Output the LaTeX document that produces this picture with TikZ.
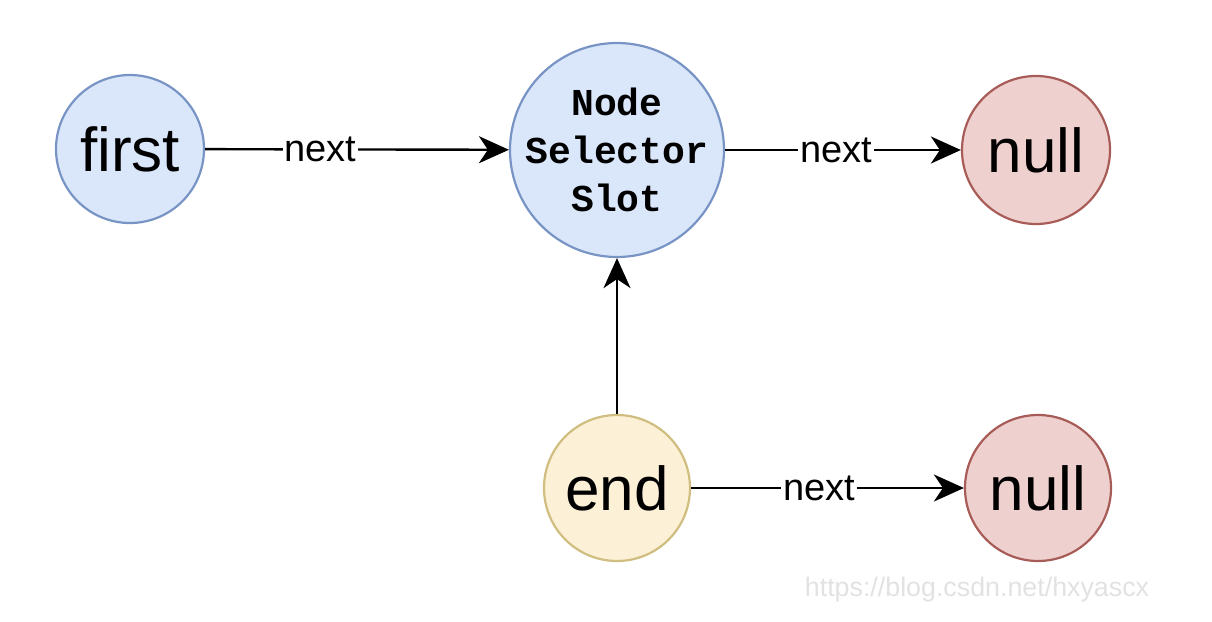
\documentclass[tikz,border=0pt]{standalone}
\usepackage{fontspec}
\setmainfont{Liberation Sans}
\newfontfamily\monofont{Liberation Mono}
\usetikzlibrary{arrows.meta}
\definecolor{bluefill}{RGB}{218,230,250}
\definecolor{bluedraw}{RGB}{120,148,196}
\definecolor{redfill}{RGB}{238,208,206}
\definecolor{reddraw}{RGB}{168,92,88}
\definecolor{yelfill}{RGB}{252,240,214}
\definecolor{yeldraw}{RGB}{208,190,128}
\definecolor{wmark}{RGB}{226,226,226}
\tikzset{
  circ/.style={circle,inner sep=0pt,line width=1.1pt},
  bluec/.style={circ,fill=bluefill,draw=bluedraw},
  redc/.style={circ,fill=redfill,draw=reddraw},
  yelc/.style={circ,fill=yelfill,draw=yeldraw},
  bigtext/.style={font=\fontsize{31}{36}\selectfont},
  conn/.style={line width=1.2pt,-{Stealth[length=15pt,width=13.5pt,inset=4.5pt]}},
  lbl/.style={fill=white,inner sep=1pt,font=\fontsize{19}{22}\selectfont}
}
\begin{document}
\begin{tikzpicture}[x=0.5pt,y=-0.5pt]
\useasboundingbox (0,0) rectangle (1212,622);
\node[bluec,bigtext,minimum size=74pt] (first) at (130,149) {first};
\node[bluec,minimum size=107pt] (nss) at (617,150) {};
\node[font=\monofont\bfseries\fontsize{19}{24}\selectfont,align=center,inner sep=0pt] (nsstext) at (nss.center) {Node\\Selector\\Slot};
\node[redc,bigtext,minimum size=74pt] (null1) at (1036,150) {null};
\node[yelc,bigtext,minimum size=73pt] (end) at (617,488) {end};
\node[redc,bigtext,minimum size=73pt] (null2) at (1038,488) {null};
\draw[conn] (first) -- node[lbl,pos=0.38] {next} (nss);
\draw[conn] (nss) -- node[lbl,pos=0.47] {next} (null1);
\draw[conn] (end) -- (nss);
\draw[conn] (end) -- node[lbl,pos=0.47] {next} (null2);
\node[text=wmark,font=\fontsize{13.4}{16}\selectfont,anchor=center] (wm) at (977,590) {https://blog.csdn.net/hxyascx};
\end{tikzpicture}
\end{document}
